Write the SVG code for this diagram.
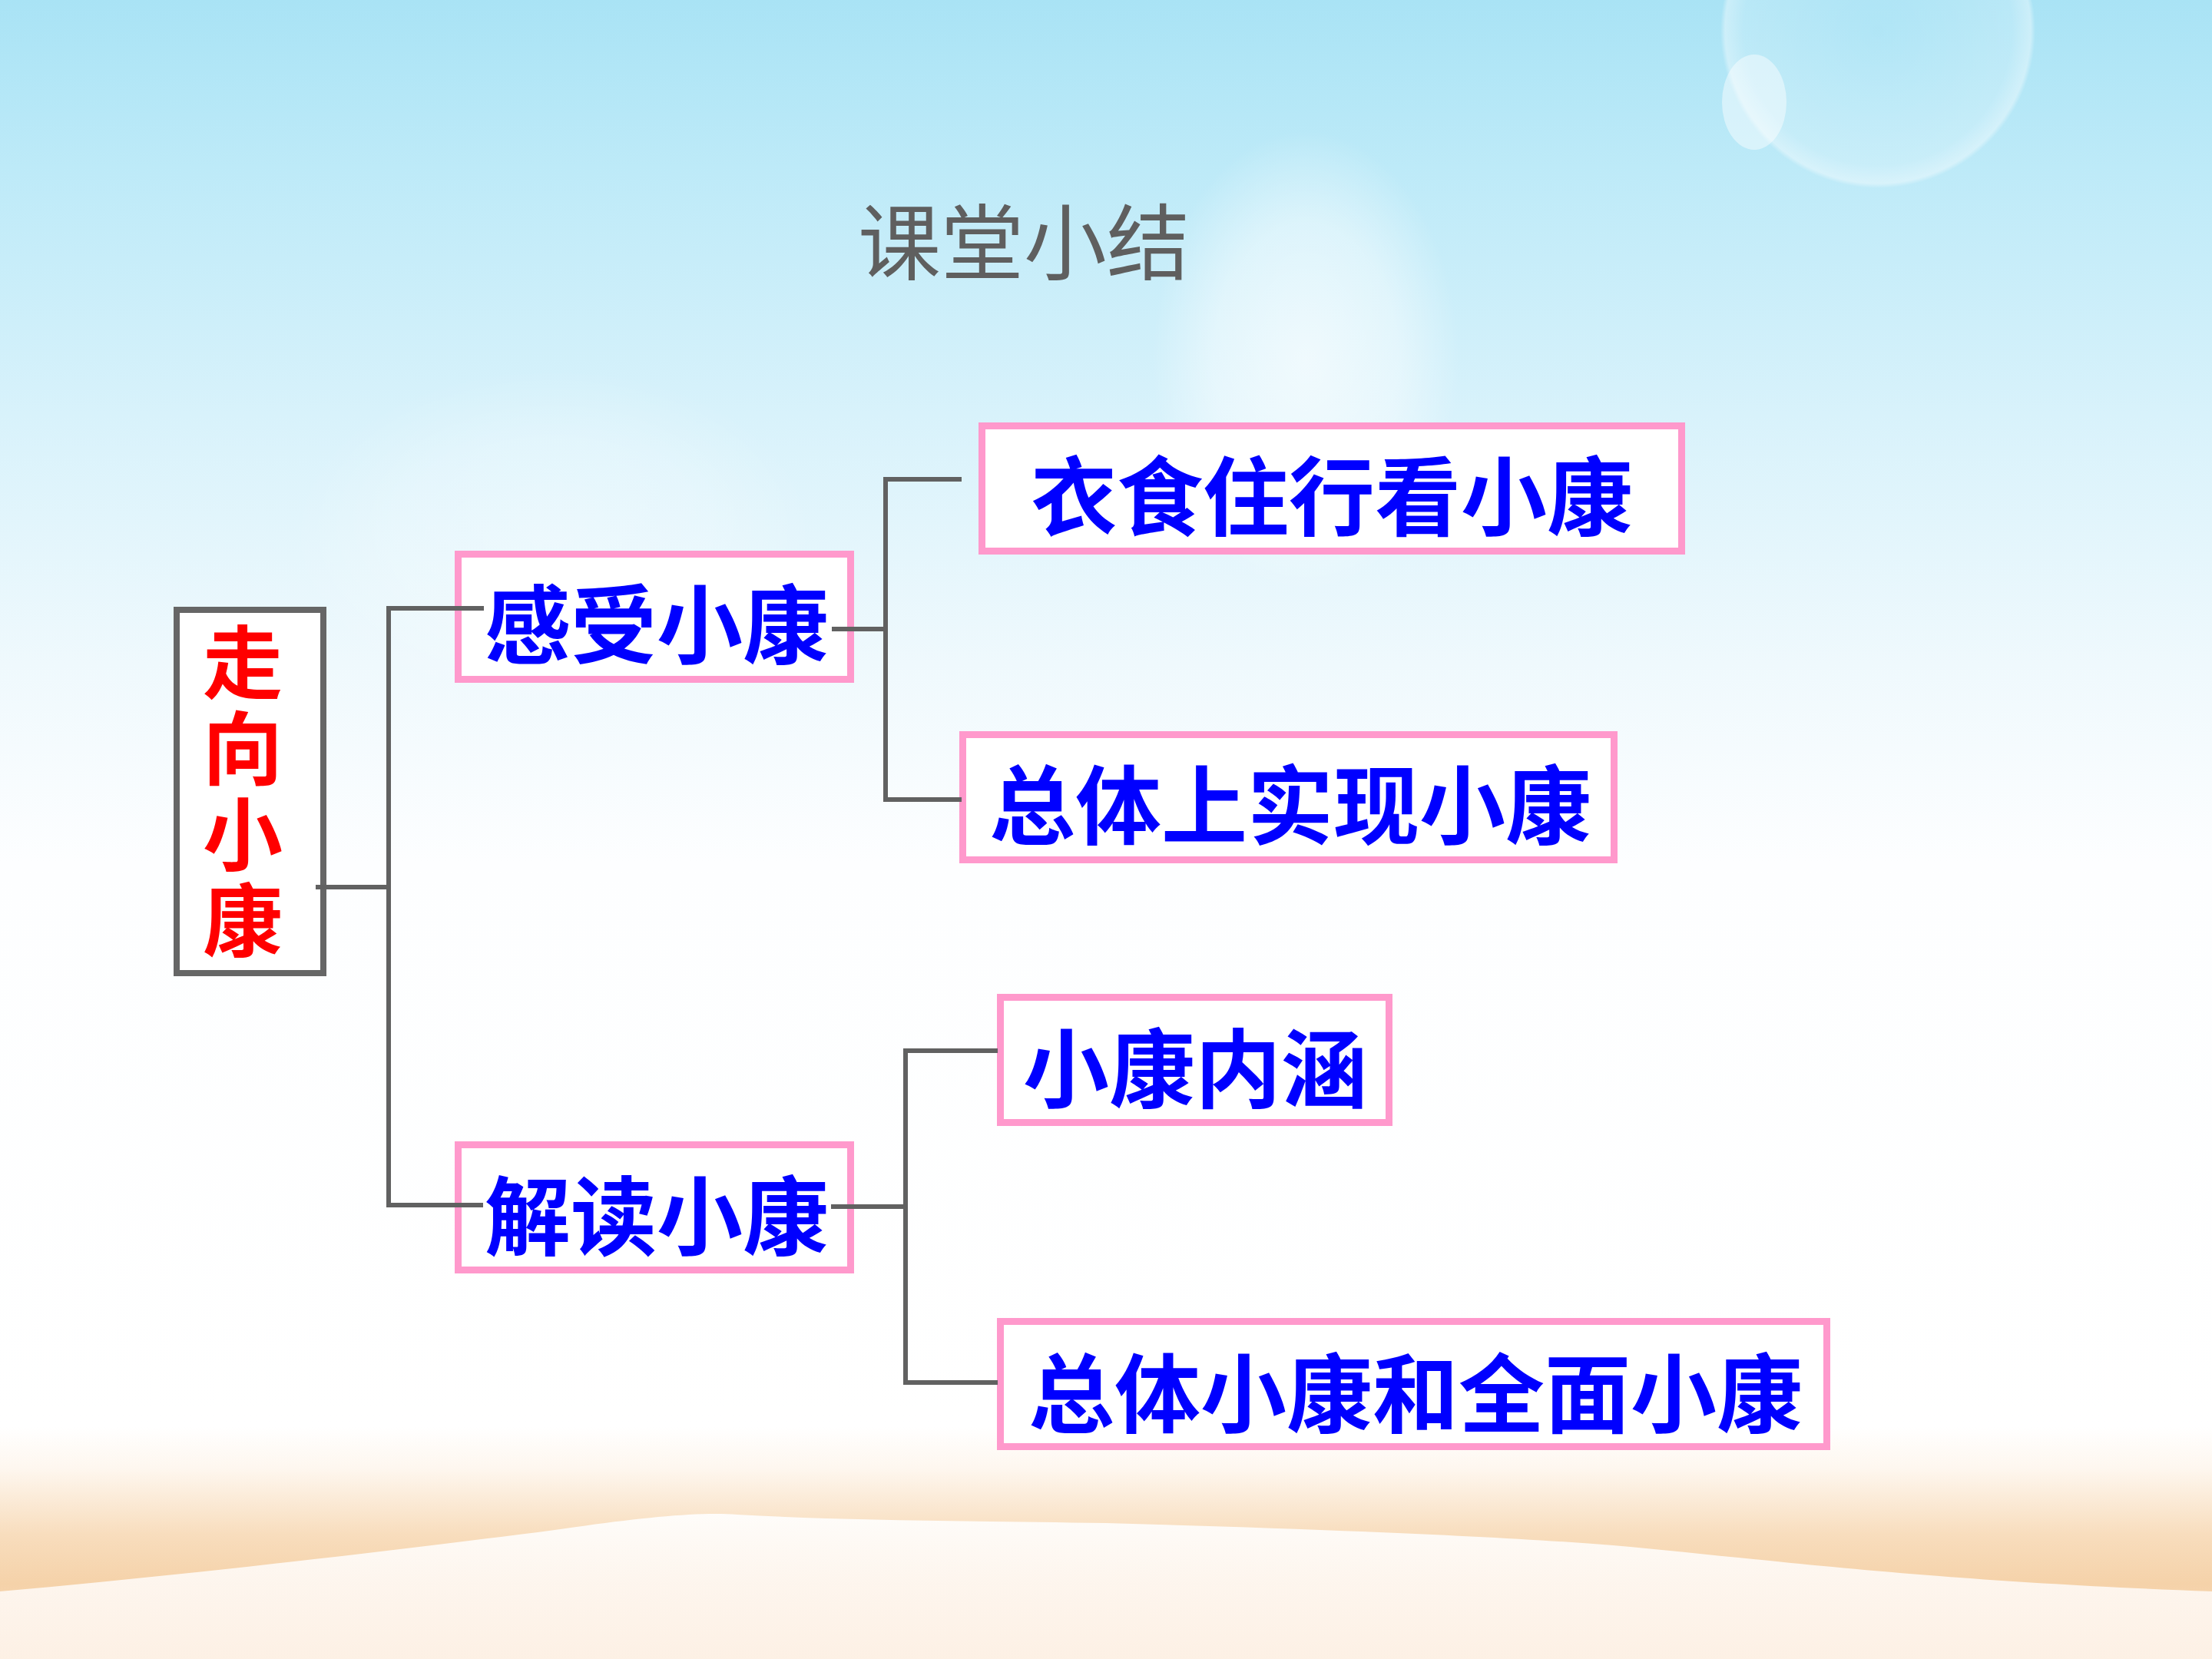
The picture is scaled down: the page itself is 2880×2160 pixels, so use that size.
<svg xmlns="http://www.w3.org/2000/svg" width="2880" height="2160" viewBox="0 0 2880 2160">
<defs>
<linearGradient id="sky" x1="0" y1="0" x2="0" y2="1">
<stop offset="0" stop-color="#A9E3F5"/>
<stop offset="0.1" stop-color="#BDEAF8"/>
<stop offset="0.25" stop-color="#D8F2FB"/>
<stop offset="0.4" stop-color="#EFF9FD"/>
<stop offset="0.52" stop-color="#FDFEFF"/>
<stop offset="0.86" stop-color="#FFFFFF"/>
<stop offset="0.885" stop-color="#FEF7EF"/>
<stop offset="0.925" stop-color="#F8DDBD"/>
<stop offset="0.955" stop-color="#F5D2A9"/>
<stop offset="1" stop-color="#F9E2C8"/>
</linearGradient>
<linearGradient id="hill" x1="0" y1="0" x2="0" y2="1">
<stop offset="0" stop-color="#FFFFFF" stop-opacity="0.9"/>
<stop offset="1" stop-color="#FDF1E6" stop-opacity="0.95"/>
</linearGradient>
<radialGradient id="glow">
<stop offset="0" stop-color="#FFFFFF" stop-opacity="0.95"/>
<stop offset="0.6" stop-color="#FFFFFF" stop-opacity="0.6"/>
<stop offset="1" stop-color="#FFFFFF" stop-opacity="0"/>
</radialGradient>
<radialGradient id="ring">
<stop offset="0" stop-color="#FFFFFF" stop-opacity="0.05"/>
<stop offset="0.85" stop-color="#FFFFFF" stop-opacity="0.18"/>
<stop offset="0.97" stop-color="#FFFFFF" stop-opacity="0.4"/>
<stop offset="1" stop-color="#FFFFFF" stop-opacity="0"/>
</radialGradient>
<style>
.pink{fill:#FFFFFF;stroke:#FF99CC;stroke-width:9}
.root{fill:#FFFFFF;stroke:#666666;stroke-width:8}
.conn{stroke:#616161;stroke-width:6;fill:none;stroke-linecap:square}
.lbl{font-family:"Noto Sans CJK SC","Noto Sans CJK TC",sans-serif;font-size:112px;font-weight:700;fill:#0000FF;text-anchor:middle}
.red{font-family:"Noto Sans CJK SC","Noto Sans CJK TC",sans-serif;font-size:104px;font-weight:700;fill:#FF0000;writing-mode:vertical-rl;text-orientation:upright;letter-spacing:8px}
.title{font-family:"Noto Sans CJK SC","Noto Sans CJK TC",sans-serif;font-size:108px;font-weight:400;fill:#5F5F5F;text-anchor:middle}
</style>
</defs>
<g id="background">
<rect x="0" y="0" width="2880" height="2160" fill="url(#sky)"/>
<ellipse cx="1700" cy="470" rx="200" ry="300" fill="url(#glow)" opacity="0.7"/>
<ellipse cx="720" cy="700" rx="340" ry="220" fill="url(#glow)" opacity="0.35"/>
<circle cx="2445" cy="40" r="205" fill="url(#ring)"/>
<ellipse cx="2284" cy="133" rx="42" ry="62" fill="#FFFFFF" opacity="0.45"/>
<path d="M0,2072 C250,2050 500,2020 700,1995 C820,1978 900,1968 960,1972 C1100,1980 1250,1980 1440,1983 C1700,1990 1950,2000 2100,2012 C2300,2030 2500,2058 2880,2072 L2880,2160 L0,2160 Z" fill="url(#hill)"/>
</g>
<g id="title">
<text class="title" x="1333" y="356">课堂小结</text>
</g>
<g id="node-root">
<rect class="root" x="230" y="794" width="191" height="473"/>
<text class="red" x="316" y="810">走向小康</text>
</g>
<g id="node-ganshou">
<rect class="pink" x="596.5" y="721.5" width="511" height="163"/>
<text class="lbl" x="855" y="856">感受小康</text>
</g>
<g id="node-yishi">
<rect class="pink" x="1278.5" y="554.5" width="911" height="163"/>
<text class="lbl" x="1734" y="689">衣食住行看小康</text>
</g>
<g id="node-zongtishang">
<rect class="pink" x="1253.5" y="956.5" width="848" height="163"/>
<text class="lbl" x="1680" y="1091">总体上实现小康</text>
</g>
<g id="node-jiedu">
<rect class="pink" x="596.5" y="1490.5" width="511" height="163"/>
<text class="lbl" x="855" y="1626">解读小康</text>
</g>
<g id="node-neihan">
<rect class="pink" x="1302.5" y="1298.5" width="506" height="163"/>
<text class="lbl" x="1556" y="1434">小康内涵</text>
</g>
<g id="node-quanmian">
<rect class="pink" x="1302.5" y="1720.5" width="1076" height="163"/>
<text class="lbl" x="1843" y="1857">总体小康和全面小康</text>
</g>
<g id="connectors">
<path class="conn" d="M414,1155 H506"/>
<path class="conn" d="M627,792 H506 V1569 H626"/>
<path class="conn" d="M1086,819 H1153"/>
<path class="conn" d="M1249,624 H1153 V1041 H1249"/>
<path class="conn" d="M1085,1571 H1179"/>
<path class="conn" d="M1296,1368 H1179 V1800 H1296"/>
</g>
</svg>
